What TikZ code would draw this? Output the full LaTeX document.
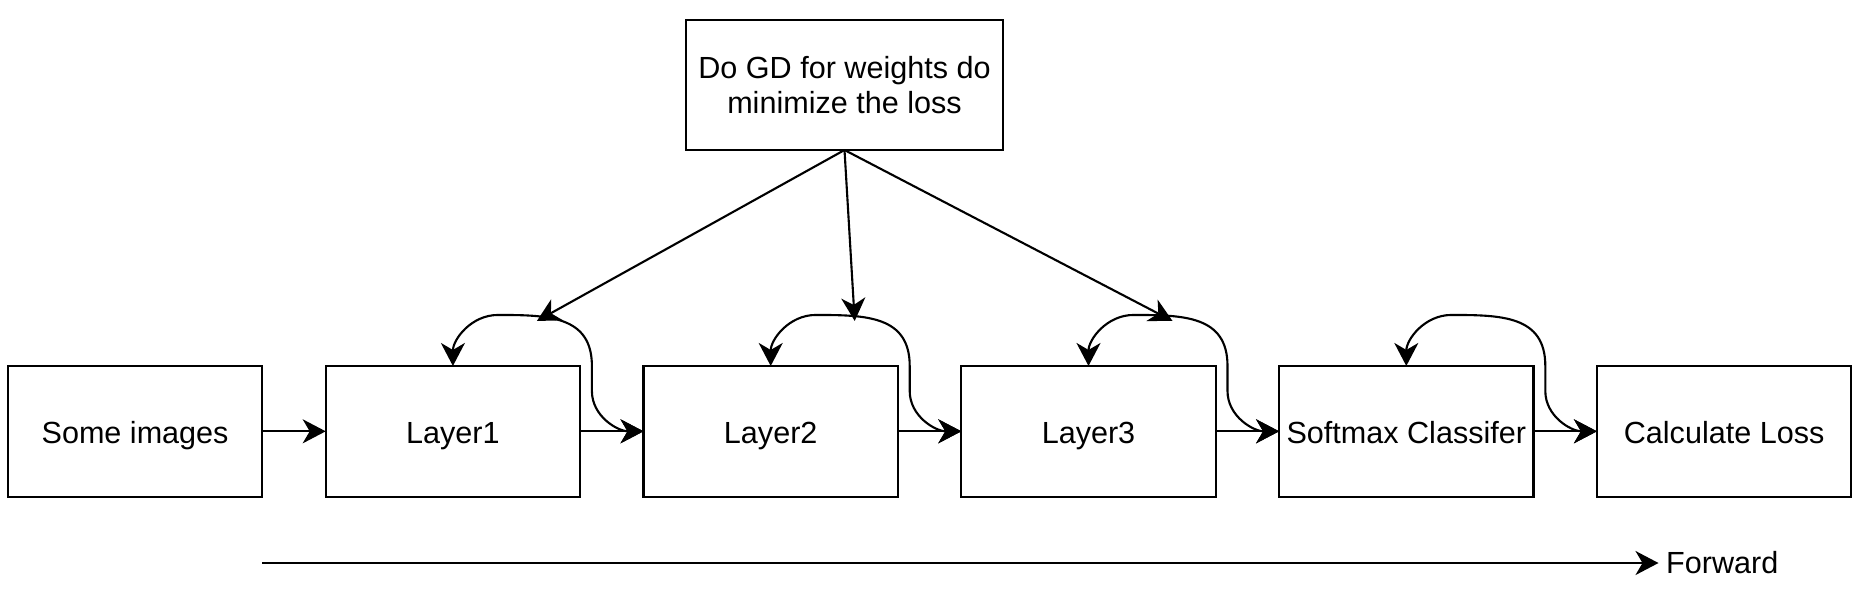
\documentclass[tikz,border=0pt]{standalone}
\usepackage{fontspec}
\setmainfont{Liberation Sans}
\usetikzlibrary{positioning,arrows.meta,calc}
\tikzset{box node/.style={rectangle,draw,line width=0.6pt,minimum width=2.544cm,minimum height=1.307cm,inner sep=0pt,outer sep=0pt,text height=0.9em,text depth=0.21em,font=\fontsize{8.7pt}{9.9pt}\selectfont},
	text node/.style={inner sep=0.07cm,font=\fontsize{8.7pt}{9.9pt}\selectfont},
	>={Stealth[length=0.23cm,width=0.24cm,inset=0.07cm]},
}

\begin{document}
\begin{tikzpicture}
				\useasboundingbox (0,0) rectangle (18.62,-5.88);
				\node[box node] (imgs) at (1.351,-4.313) {Some images};
				\node[box node] (L1) [right =0.634cm of imgs] {Layer1};
				\node[box node] (L2) [right =0.634cm of L1] {Layer2};
				\node[box node] (L3) [right =0.634cm of L2] {Layer3};
				\node[box node] (soft) [right =0.634cm of L3] {Softmax Classifer};
				\node[box node] (loss) [right =0.634cm of soft] {Calculate Loss};
				\node[box node,minimum width=3.17cm,minimum height=1.30cm,text height=,text depth=,align=center] (gd) at (8.445,-0.85) {Do GD for weights do\\minimize the loss};
				\node[text node,anchor=west] (fwd) at (16.585,-5.63) {Forward};
				\coordinate (fstart) at (imgs.east |- fwd.west);
				
				\foreach \n in {L1,L2,L3}
					\coordinate (\n-tip) at ($(\n.north)+(0.84,0.45)$);
				
				\path[line width=0.6pt,->]
				(imgs) edge (L1)
				(L1) edge (L2)
				(L2) edge (L3)
				(L3) edge (soft)
				(soft) edge (loss)
				(gd.south) edge (L1-tip)
				(gd.south) edge (L2-tip)
				(gd.south) edge (L3-tip)
				(fstart) edge (fwd);
				
				\foreach \a/\b in {L1/L2,L2/L3,L3/soft,soft/loss}
					\draw[line width=0.6pt,<->] (\a.north) to[out=90,in=180] ++(0.45,0.51) to[out=0,in=90,looseness=1.2] ++(0.94,-0.51) -- ++(0,-0.25) to[out=-90,in=180] (\b.west);
				
			\end{tikzpicture}
\end{document}
